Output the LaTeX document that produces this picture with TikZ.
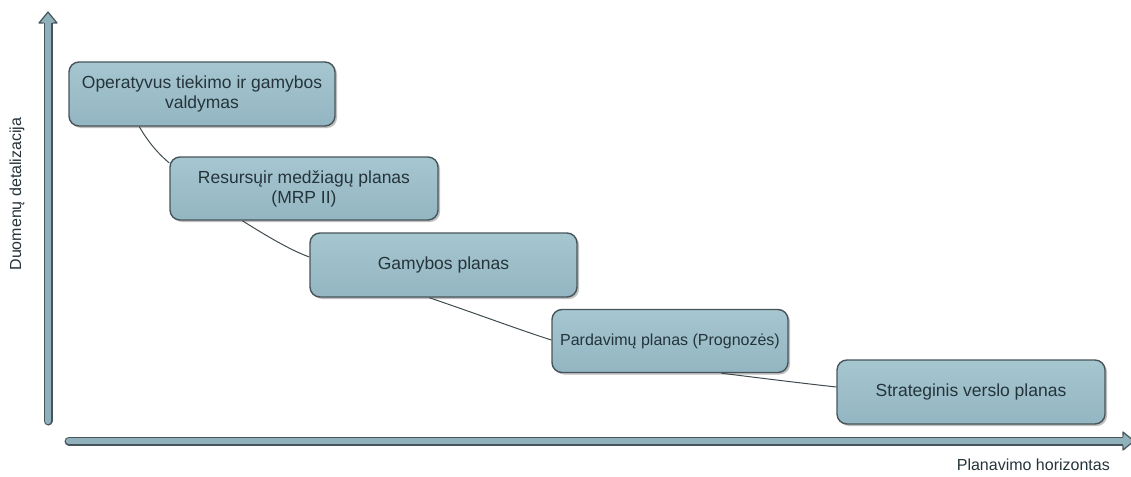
\documentclass[tikz,border=0pt]{standalone}
\usepackage{fontspec}
\setmainfont{Liberation Sans}
\usetikzlibrary{shadows}
\definecolor{boxfill}{HTML}{93B6C2}
\definecolor{boxtop}{HTML}{A6C6D0}
\definecolor{boxedge}{HTML}{47555A}
\definecolor{txt}{HTML}{25343A}
\definecolor{axisfill}{HTML}{8FB1BC}
\tikzset{
  stage/.style={draw=boxedge, line width=1.4pt, rounded corners=10pt,
    top color=boxtop, bottom color=boxfill, text=txt, align=center,
    font=\fontsize{17.5}{20}\selectfont, inner sep=0pt,
    drop shadow={shadow xshift=2pt, shadow yshift=-2pt, opacity=0.25, fill=black}},
  link/.style={draw=boxedge!90!black, line width=1pt},
  axislabel/.style={text=txt, font=\fontsize{16}{18}\selectfont, inner sep=0pt},
  shaftout/.style={draw=boxedge, line width=9pt, line cap=round},
  shaftin/.style={draw=axisfill, line width=6.4pt, line cap=round},
  axishead/.style={draw=boxedge, line width=1.2pt, fill=axisfill, line join=round}
}
\begin{document}
\begin{tikzpicture}[x=1pt,y=-1pt]
\useasboundingbox (0,0) rectangle (1131,476);

% vertical axis
\coordinate (ybot) at (48,421);
\coordinate (ytop) at (48,22);
\draw[shaftout] (ybot) -- (ytop);
\draw[shaftin] (ybot) -- (ytop);
\draw[axishead] (43.5,23) -- (39,23) -- (48,12) -- (57,23) -- (52.5,23);
% horizontal axis
\coordinate (xleft) at (69,441);
\coordinate (xright) at (1124,441);
\draw[shaftout] (xleft) -- (xright);
\draw[shaftin] (xleft) -- (xright);
\draw[axishead] (1123,436.5) -- (1123,432) -- (1134,441) -- (1123,450) -- (1123,445.5);

\node[axislabel, rotate=90] (ylab) at (17,194) {Duomenų detalizacija};
\node[axislabel, anchor=east] (xlab) at (1110,465) {Planavimo horizontas};

% planning levels
\node[stage, minimum width=266pt, minimum height=64pt] (ops) at (202,94)
  {Operatyvus tiekimo ir gamybos\\valdymas};
\node[stage, minimum width=268pt, minimum height=63pt] (mrp) at (304,188.5)
  {Resursųir medžiagų planas\\(MRP II)};
\node[stage, minimum width=267pt, minimum height=64pt] (prod) at (443.5,265)
  {Gamybos planas};
\node[stage, minimum width=236pt, minimum height=63pt,
  font=\fontsize{16}{19}\selectfont] (sales) at (670,341)
  {Pardavimų planas (Prognozės)};
\node[stage, minimum width=268pt, minimum height=64pt] (strat) at (971,392)
  {Strateginis verslo planas};

% links between levels
\draw[link] (ops.south west) ++(71,0) coordinate (a1)
  (a1) .. controls (150,145) and (160,155) .. (mrp.west |- 0,163) coordinate (b1);
\draw[link] (mrp.south west) ++(73,0) coordinate (a2)
  (a2) .. controls (265,235) and (290,250) .. (prod.west |- 0,257) coordinate (b2);
\draw[link] (prod.south west) ++(120,0) coordinate (a3)
  (a3) .. controls (480,315) and (520,330) .. (sales.west |- 0,340) coordinate (b3);
\draw[link] (sales.south west) ++(170,0) coordinate (a4)
  (a4) .. controls (760,378) and (800,383) .. (strat.west |- 0,387) coordinate (b4);
\end{tikzpicture}
\end{document}
